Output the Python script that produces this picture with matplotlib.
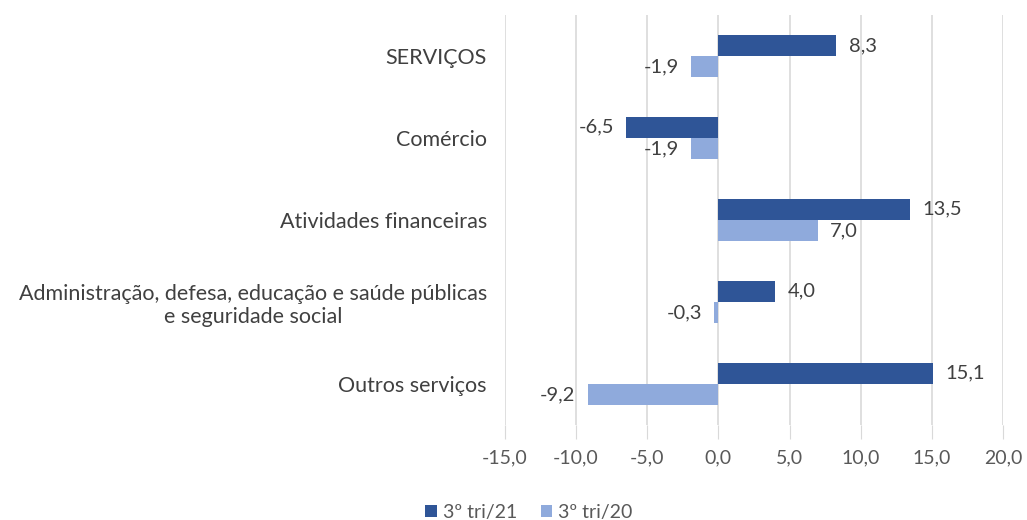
import matplotlib.pyplot as plt
import numpy as np

categories = ["SERVIÇOS", "Comércio", "Atividades financeiras",
              "Administração, defesa, educação e saúde públicas\ne seguridade social",
              "Outros serviços"]
tri21 = [8.3, -6.5, 13.5, 4.0, 15.1]
tri20 = [-1.9, -1.9, 7.0, -0.3, -9.2]
xticks = [-15, -10, -5, 0, 5, 10, 15, 20]

dark = "#2F5597"
light = "#8FAADC"
txt = "#404040"

plt.rcParams['font.family'] = ['Lato', 'DejaVu Sans']

fig = plt.figure(figsize=(10.27, 5.2), dpi=100)
ax = fig.add_axes([0.4917, 0.183, 0.4849, 0.788])

y = np.arange(len(categories))
h = 0.26
ax.barh(y - h / 2, tri21, height=h, color=dark, label="3º tri/21", zorder=3)
ax.barh(y + h / 2, tri20, height=h, color=light, label="3º tri/20", zorder=3)

def fmt(v):
    return ("%.1f" % v).replace(".", ",")

for i in range(len(categories)):
    for v, off in ((tri21[i], -h / 2), (tri20[i], h / 2)):
        if v >= 0:
            ax.text(v + 0.85, i + off, fmt(v), va="center", ha="left", fontsize=14.5, color=txt)
        else:
            ax.text(v - 0.85, i + off, fmt(v), va="center", ha="right", fontsize=14.5, color=txt)

ax.set_xlim(-15, 20)
ax.set_ylim(len(categories) - 0.5, -0.5)
ax.set_xticks(xticks)
ax.set_xticklabels([fmt(t) for t in xticks], fontsize=14, color="#595959")
ax.set_yticks(y)
ax.set_yticklabels(categories, fontsize=15.5, color=txt, ha="right", multialignment="center")
ax.tick_params(axis="y", length=0, pad=13)
ax.tick_params(axis="x", length=10, color="#D9D9D9", pad=8)
ax.grid(axis="x", color="#D9D9D9", linewidth=1.2, zorder=0)
for s in ax.spines.values():
    s.set_visible(False)

leg = ax.legend(loc="lower center", ncol=2, frameon=False, fontsize=14,
                handlelength=0.6, handleheight=0.6, columnspacing=1.2,
                handletextpad=0.3, labelcolor="#595959")
leg.set_bbox_to_anchor((0.515, -0.035), transform=fig.transFigure)

fig.savefig("out.png", dpi=100)
